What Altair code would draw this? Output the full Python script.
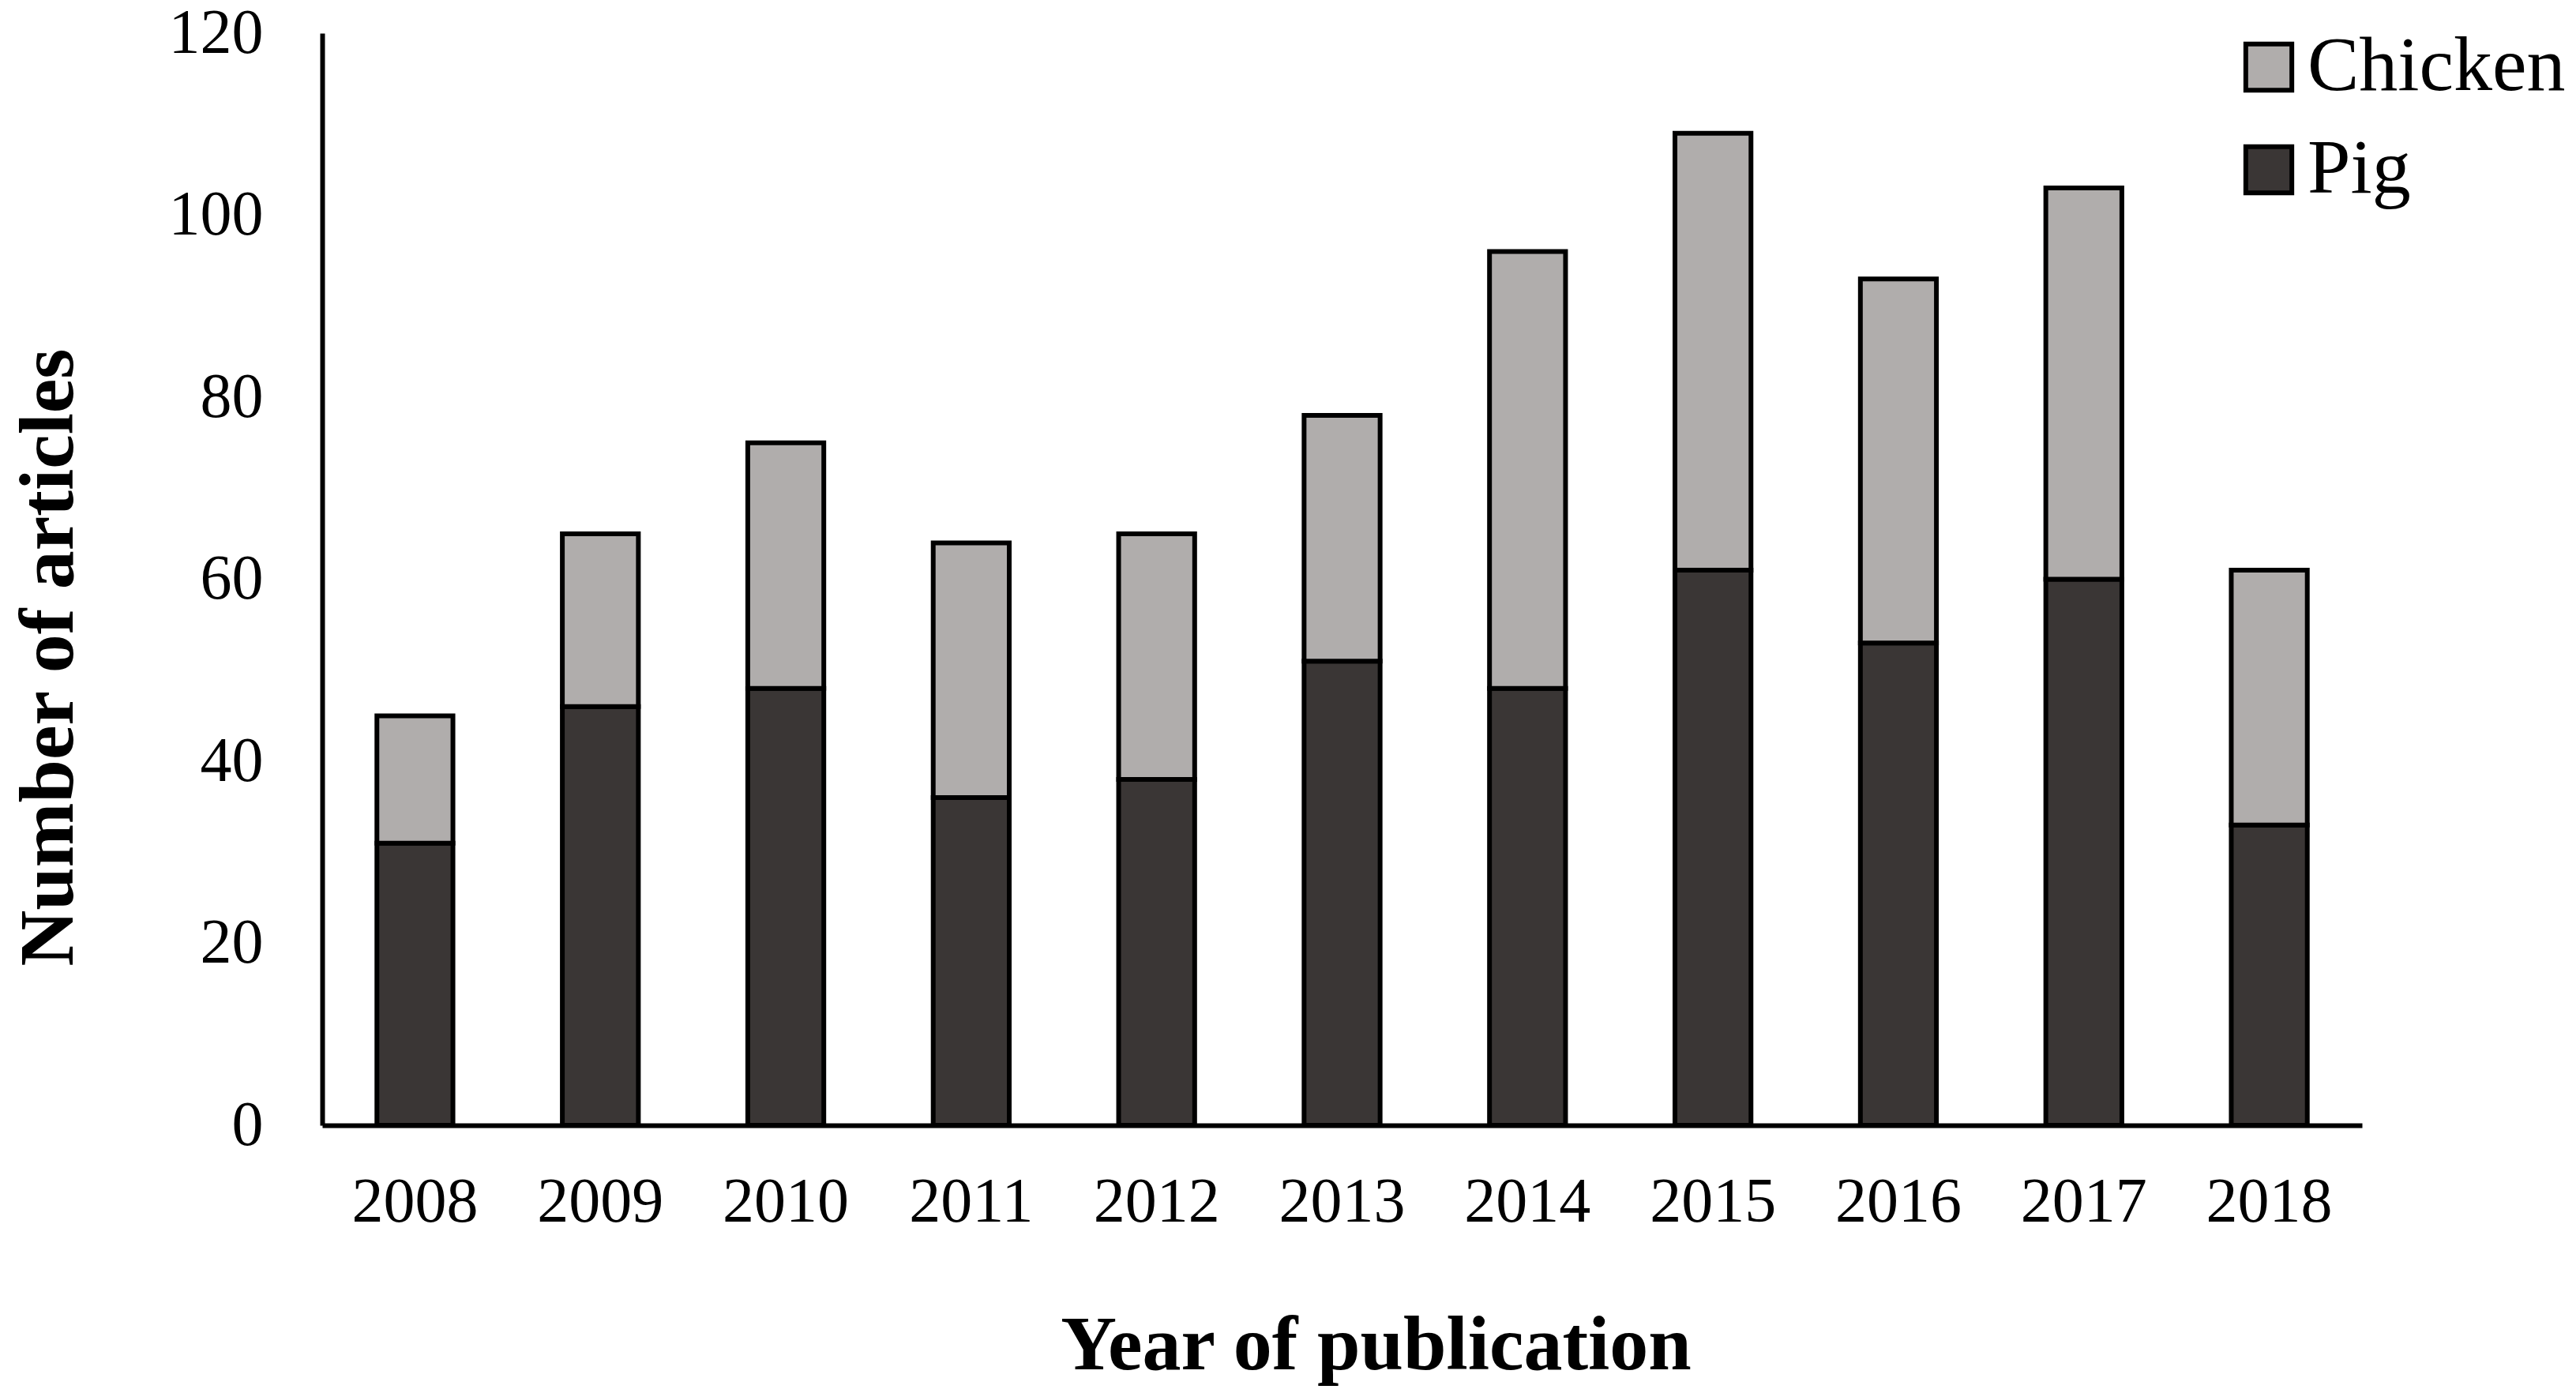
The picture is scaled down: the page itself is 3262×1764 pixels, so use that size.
import altair as alt
import pandas as pd

years = ["2008", "2009", "2010", "2011", "2012", "2013", "2014", "2015", "2016", "2017", "2018"]
pig = [31, 46, 48, 36, 38, 51, 48, 61, 53, 60, 33]
total = [45, 65, 75, 64, 65, 78, 96, 109, 93, 103, 61]
chicken = [t - p for t, p in zip(total, pig)]
species = ["Chicken", "Pig"]
colors = ["#b0adac", "#3a3635"]

rows = []
for y, p, c in zip(years, pig, chicken):
    rows.append({"year": y, "species": "Pig", "count": p, "ord": 0})
    rows.append({"year": y, "species": "Chicken", "count": c, "ord": 1})
df = pd.DataFrame(rows)

FONT = "Liberation Serif"

chart = alt.Chart(df).mark_bar(stroke="black", strokeWidth=6).encode(
    x=alt.X("year:N", sort=years,
            scale=alt.Scale(paddingInner=0.59, paddingOuter=0.295),
            axis=alt.Axis(title="Year of publication", labelAngle=0, ticks=False, tickSize=0,
                          labelPadding=58, labelFontSize=80, labelFont=FONT, labelColor="black",
                          domainColor="black", domainWidth=6,
                          titleFont=FONT, titleFontSize=98, titleFontWeight="bold", titleColor="black",
                          titleX=1334, titleY=308, titleBaseline="alphabetic", titleAlign="center")),
    y=alt.Y("count:Q", stack="zero",
            scale=alt.Scale(domain=[0, 120], nice=False),
            axis=alt.Axis(title="Number of articles", values=[0, 20, 40, 60, 80, 100, 120],
                          ticks=False, tickSize=0, grid=False, labelPadding=75,
                          labelFontSize=80, labelFont=FONT, labelColor="black",
                          domainColor="black", domainWidth=6,
                          titleFont=FONT, titleFontSize=98, titleFontWeight="bold", titleColor="black",
                          titleX=-346, titleY=790, titleAngle=270, titleBaseline="middle", titleAlign="center")),
    color=alt.Color("species:N", scale=alt.Scale(domain=species, range=colors),
                    legend=alt.Legend(title=None, orient="none", legendX=2416, legendY=-6,
                                      symbolType="square", symbolSize=3400,
                                      symbolStrokeColor="black", symbolStrokeWidth=6,
                                      labelFont=FONT, labelFontSize=98, labelColor="black",
                                      labelLimit=0, labelOffset=0, rowPadding=32, padding=0)),
    order=alt.Order("ord:Q"),
).properties(
    width=2583, height=1383,
    autosize=alt.AutoSizeParams(type="none"),
    padding={"left": 400, "top": 34, "right": 263, "bottom": 331},
).configure(
    background="white", font=FONT
).configure_view(
    stroke=None, strokeWidth=0
).configure_legend(
    labelFont=FONT, labelLimit=0
)

chart.save("out.html", embed_options={"renderer": "svg", "actions": False})
